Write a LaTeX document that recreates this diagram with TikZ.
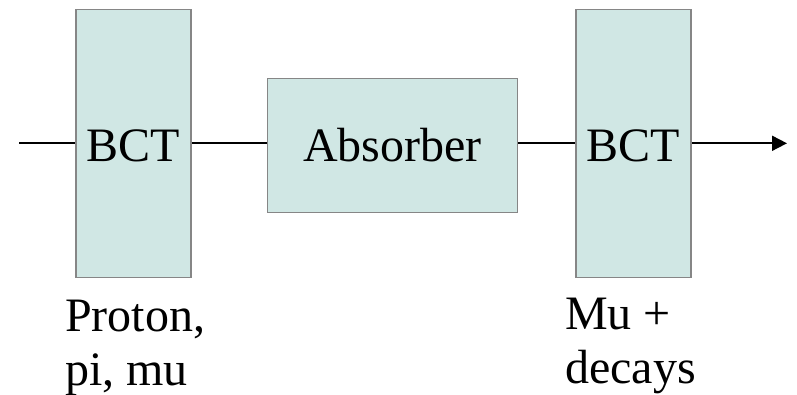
\documentclass[tikz,border=0pt]{standalone}
\usepackage{fontspec}
\setmainfont{Liberation Serif}
\usetikzlibrary{arrows.meta}
\definecolor{boxfill}{HTML}{D0E7E4}
\definecolor{boxline}{HTML}{868686}
\begin{document}
\begin{tikzpicture}[x=1pt,y=-1pt,
  detbox/.style={draw=boxline,line width=1.6pt,fill=boxfill,inner sep=0pt,
    font=\fontsize{48}{54}\selectfont,text depth=0pt},
  beam/.style={line width=1.8pt,black},
  lbl/.style={font=\fontsize{48}{54}\selectfont,align=left,inner sep=0pt,anchor=base west}]
\useasboundingbox (0,0) rectangle (797,394);
\node[detbox,minimum width=115pt,minimum height=268pt,text height=37pt] (bct1) at (133.5,143.3) {BCT};
\node[detbox,minimum width=250pt,minimum height=134pt,text height=33pt] (abs) at (392.5,145.3) {Absorber};
\node[detbox,minimum width=115pt,minimum height=268pt,text height=37pt] (bct2) at (633.5,143.3) {BCT};
\coordinate (in) at (19,143.3);
\coordinate (out) at (787,143.3);
\draw[beam] (in) -- (bct1.west);
\draw[beam] (bct1.east) -- (bct1.east -| abs.west);
\draw[beam] (bct2.west -| abs.east) -- (bct2.west);
\draw[beam,-{Triangle[length=15pt,width=15pt]}] (bct2.east) -- (out);
\node[lbl] (l1) at (65,385) {Proton,\\pi, mu};
\node[lbl] (l2) at (565,383) {Mu +\\decays};
\end{tikzpicture}
\end{document}
